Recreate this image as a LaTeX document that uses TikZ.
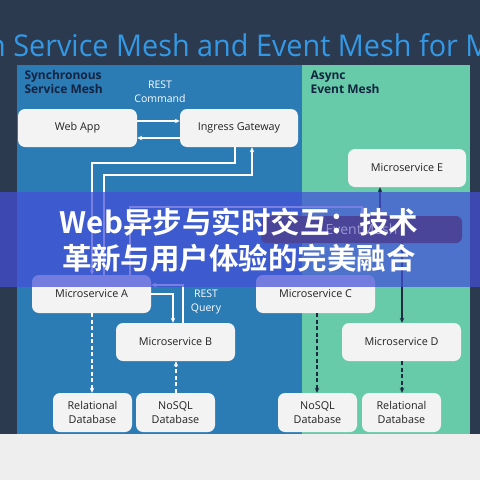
\documentclass[tikz,border=0pt]{standalone}
\usepackage{fontspec}
\setmainfont{Open Sans}
\newfontfamily\cjkb{Noto Sans CJK SC Bold}
\usetikzlibrary{arrows.meta}
\definecolor{navy}{HTML}{2C3A4F}
\definecolor{lightbg}{HTML}{EEEEEE}
\definecolor{panelblue}{HTML}{2B7BB5}
\definecolor{panelteal}{HTML}{67CBAA}
\definecolor{titleblue}{HTML}{3399E6}
\definecolor{boxfill}{HTML}{F3F3F3}
\definecolor{boxtext}{HTML}{222222}
\definecolor{headtext}{HTML}{14233F}
\definecolor{darkline}{HTML}{1C2B40}
\definecolor{bannerblue}{HTML}{4450D8}
\definecolor{embox}{HTML}{4A4598}
\definecolor{emtext}{HTML}{9A96D2}
\tikzset{
  box/.style={fill=boxfill, rounded corners=7pt, text=boxtext, inner sep=0pt, align=center,
    font=\fontsize{10.8}{13.5}\selectfont, minimum width=119pt, minimum height=38pt},
  dbox/.style={box, minimum width=79pt, minimum height=39pt},
  head/.style={anchor=base west, text=headtext, font=\bfseries\fontsize{12}{14}\selectfont},
  lbl/.style={text=white, font=\fontsize{10.5}{12}\selectfont},
  wl/.style={draw=white, line width=1.3pt, -{Stealth[length=5pt,width=4.5pt]}},
  dl/.style={draw=darkline, line width=1.3pt, -{Stealth[length=5pt,width=4.5pt]}},
  wdash/.style={wl, line width=1.8pt, dash pattern=on 4pt off 2.5pt},
  ddash/.style={dl, line width=1.8pt, dash pattern=on 4pt off 2.5pt},
}
\begin{document}
\begin{tikzpicture}[x=1pt,y=-1pt]
\useasboundingbox (0,0) rectangle (480,480);
\clip (0,0) rectangle (480,480);
% backgrounds
\fill[navy] (0,0) rectangle (480,434);
\fill[lightbg] (0,434) rectangle (480,480);
\fill[panelblue] (17,65) rectangle (302,434);
\fill[panelteal] (302,65) rectangle (470,434);
% title
\node[anchor=base west, inner sep=0pt, xscale=0.96, text=titleblue, font=\fontsize{30}{30}\selectfont] (title) at (-12,56) {n Service Mesh and Event Mesh for M};
% headings
\node[head] (h1a) at (21,79) {Synchronous};
\node[head] (h1b) at (21,93) {Service Mesh};
\node[head] (h2a) at (307,79) {Async};
\node[head] (h2b) at (307,93) {Event Mesh};
% labels
\node[lbl] (l1a) at (160,85) {REST};
\node[lbl] (l1b) at (160,99) {Command};
\node[lbl] (l2a) at (206,294) {REST};
\node[lbl] (l2b) at (206,309) {Query};
% nodes
\node[box] (webapp) at (77.5,128) {Web App};
\node[box, minimum width=118pt] (ingress) at (239,128) {Ingress Gateway};
\node[box, minimum width=118pt] (msE) at (407,168) {Microservice E};
\node[box] (msA) at (91.5,294) {Microservice A};
\node[box] (msB) at (175.5,342) {Microservice B};
\node[box] (msC) at (315.5,294) {Microservice C};
\node[box] (msD) at (401.5,342) {Microservice D};
\node[dbox] (relL) at (92.5,412.5) {Relational\\Database};
\node[dbox] (nosqlL) at (175.5,412.5) {NoSQL\\Database};
\node[dbox] (nosqlR) at (317.5,412.5) {NoSQL\\Database};
\node[dbox] (relR) at (401.5,412.5) {Relational\\Database};
% connectors
\draw[wl] (webapp.east |- 0,121) -- (ingress.west |- 0,121);
\draw[wl] (ingress.west |- 0,138) -- (webapp.east |- 0,138);
\draw[wl] (ingress.south -| 235,0) |- (92,163) -- (msA.north -| 92,0);
\draw[wl] (msA.north -| 104,0) |- (252,175) -- (ingress.south -| 252,0);
\coordinate (emin) at (362,216);
\draw[wl] (msA.north -| 130,0) |- (362,207) -- (emin);
\draw[dl] (380,216) -- (msE.south -| 380,0);
\draw[dl] (402,243) -- (msD.north -| 402,0);
\draw[wl] (msA.east |- 0,294) -| (msB.north -| 173,0);
\draw[wl] (msB.north -| 183,0) |- (msA.east |- 0,285);
\draw[wdash] (msA.south -| 92,0) -- (relL.north -| 92,0);
\draw[wdash] (nosqlL.north -| 176,0) -- (msB.south -| 176,0);
\draw[ddash] (msC.south -| 317,0) -- (nosqlR.north -| 317,0);
\draw[ddash] (msD.south -| 402,0) -- (relR.north -| 402,0);
% banner
\fill[bannerblue, opacity=0.72] (0,192) rectangle (480,287);
\node[fill=embox, rounded corners=6pt, minimum width=201pt, minimum height=27pt, inner sep=0pt,
  text=emtext, font=\fontsize{14}{14}\selectfont] (em) at (361.5,229.5) {EventMesh};
\node[text=white, align=center, inner sep=0pt, font=\cjkb\fontsize{29.5}{36}\selectfont] (banner) at (239,240)
  {Web异步与实时交互：技术\\革新与用户体验的完美融合};
\end{tikzpicture}
\end{document}
